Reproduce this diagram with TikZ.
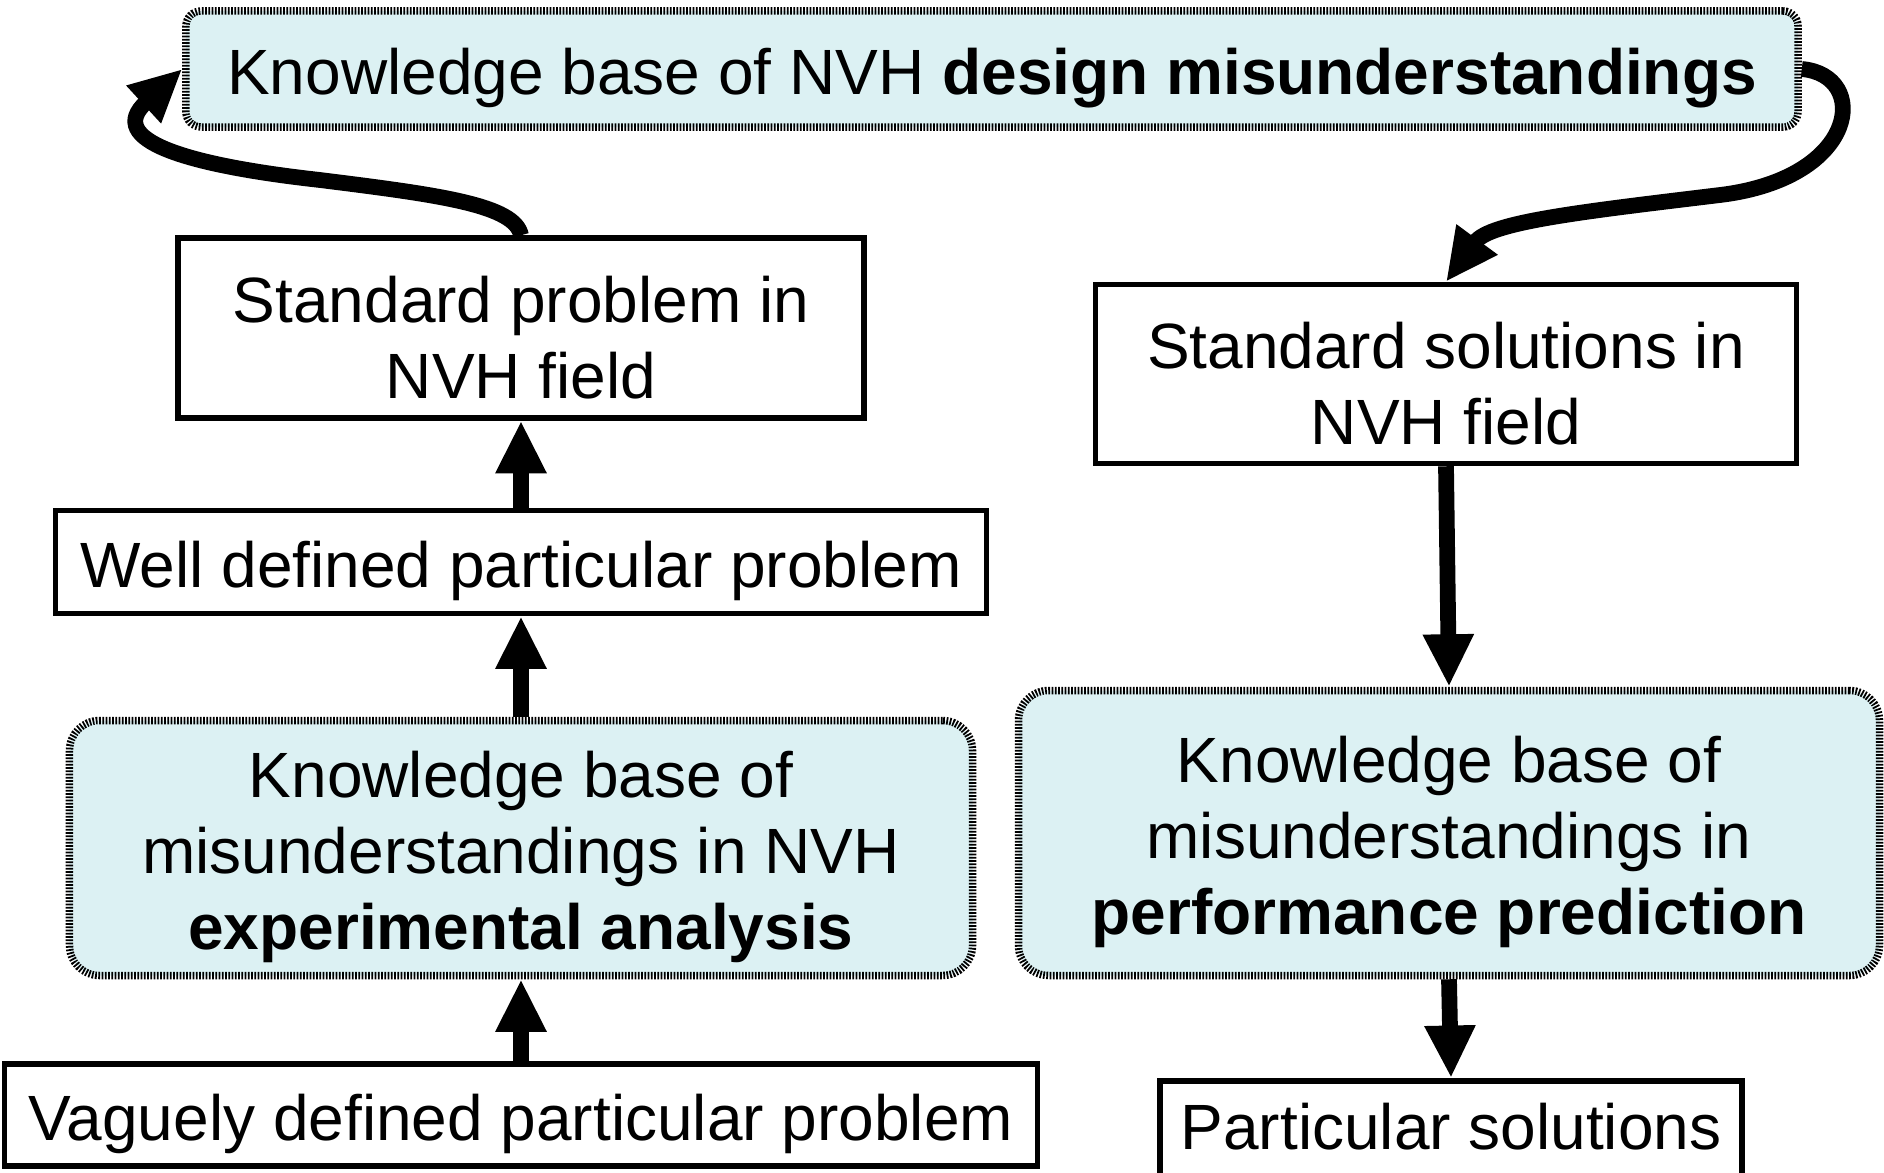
\documentclass[tikz,border=0pt]{standalone}
\usepackage{fontspec}
\setmainfont{Liberation Sans}
\usepackage{xcolor}
\usepackage{tikz}
\usetikzlibrary{arrows.meta, positioning}
\definecolor{kbcyan}{RGB}{220, 241, 243}
% taller first line, so the text sits a little lower in its box
\newcommand{\nvhstrut}{\rule{0pt}{26pt}}

\begin{document}
\begin{tikzpicture}[x=0.4pt, y=-0.4pt,
    plainbox/.style={draw, line width=2.2pt, align=center, inner sep=0pt,
                     font=\fontsize{25.6}{30.4}\selectfont},
    kbbox/.style={plainbox, fill=kbcyan, line width=3pt,
                  dash pattern=on 0.7pt off 0.6pt, rounded corners=12pt},
    flow/.style={line width=6.3pt, -{Triangle[width=19pt, length=21pt]}}]
    \useasboundingbox (0,0) rectangle (1884,1172);

    % Top knowledge base
    \node[kbbox, rounded corners=6pt, minimum width=644.8pt, minimum height=46.4pt]
        (kbdesign) at (992,69) {\nvhstrut Knowledge base of NVH \textbf{design misunderstandings}};

    % Left column (problems)
    \node[plainbox, minimum width=274.4pt, minimum height=72pt]
        (stdprob) at (521,328) {\nvhstrut Standard problem in\\NVH field};
    \node[plainbox, minimum width=372.4pt, minimum height=41.2pt]
        (welldef) at (521,562) {\nvhstrut Well defined particular problem};
    \node[kbbox, minimum width=361.2pt, minimum height=102pt]
        (kbexp) at (521,848) {\nvhstrut Knowledge base of\\misunderstandings in NVH\\\textbf{experimental analysis}};
    \node[plainbox, minimum width=413.2pt, minimum height=40.8pt]
        (vague) at (521,1115) {\nvhstrut Vaguely defined particular problem};

    % Right column (solutions)
    \node[plainbox, minimum width=280.4pt, minimum height=71.6pt]
        (stdsol) at (1446,374) {\nvhstrut Standard solutions in\\NVH field};
    \node[kbbox, minimum width=344.4pt, minimum height=114pt]
        (kbperf) at (1449,833) {\nvhstrut Knowledge base of\\misunderstandings in\\\textbf{performance prediction}};
    \node[plainbox, anchor=north, minimum width=232.8pt, inner ysep=0pt,
          text height=27.6pt, text depth=16pt]
        (partsol) at (1451,1078) {Particular solutions};

    % Vertical flows
    \draw[flow] (vague.north) -- (kbexp.south);
    \draw[flow] (kbexp.north) -- (welldef.south);
    \draw[flow] (welldef.north) -- (stdprob.south);
    \draw[flow] (stdsol.south) -- (kbperf.north);
    \draw[flow] (kbperf.south) -- (partsol.north);

    % Loop through the top knowledge base
    \draw[flow] (stdprob.north) .. controls (515,205) and (440,195) .. (320,180)
        .. controls (185,165) and (105,140) .. (kbdesign.west);
    \draw[flow] (kbdesign.east) .. controls (1870,75) and (1860,178) .. (1720,195)
        .. controls (1580,212) and (1490,222) .. (stdsol.north);
\end{tikzpicture}
\end{document}
